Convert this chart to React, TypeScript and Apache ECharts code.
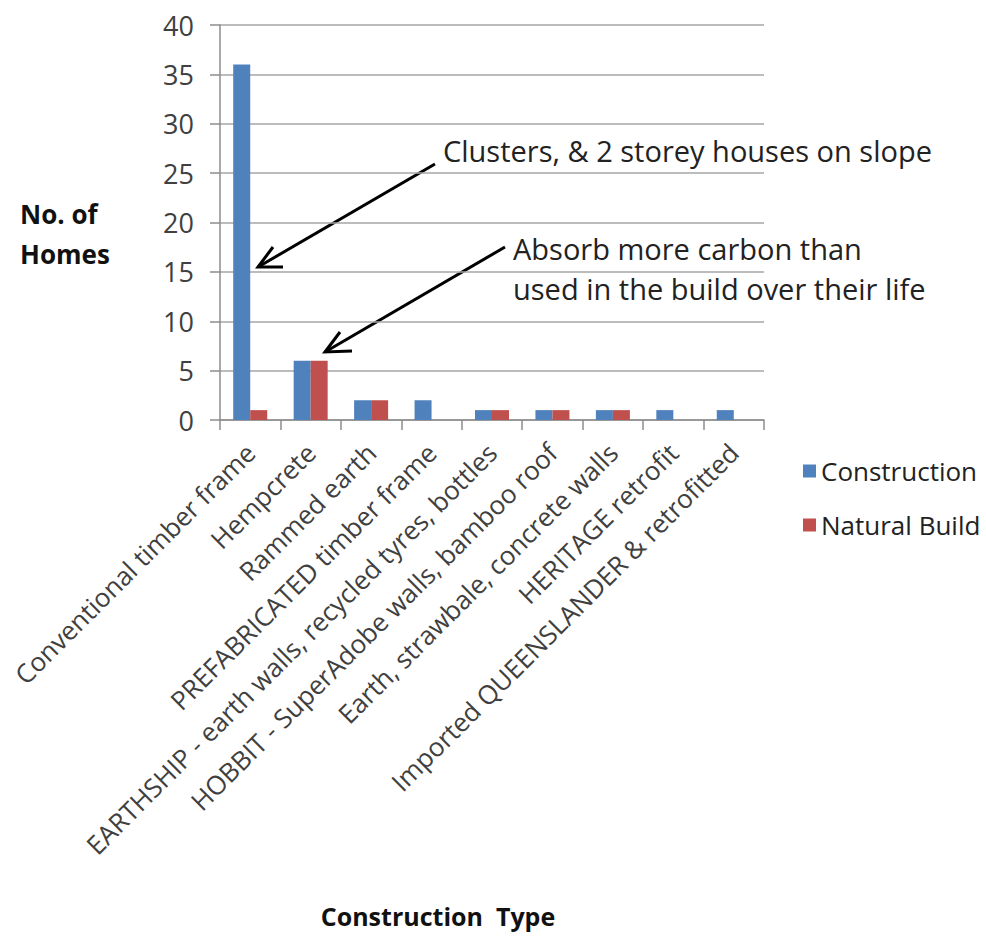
import React, { useEffect, useRef } from "react";
import * as echarts from "echarts";

const categories = [
  "Conventional timber frame",
  "Hempcrete",
  "Rammed earth",
  "PREFABRICATED timber frame",
  "EARTHSHIP - earth walls, recycled tyres, bottles",
  "HOBBIT - SuperAdobe walls, bamboo roof",
  "Earth, strawbale, concrete walls",
  "HERITAGE retrofit",
  "Imported QUEENSLANDER & retrofitted",
];
const construction = [36, 6, 2, 2, 1, 1, 1, 1, 1];
const naturalBuild = [1, 6, 2, null, 1, 1, 1, null, null];
const yTicks = { min: 0, max: 40, interval: 5 };

const FONT = "'Open Sans', 'Noto Sans', sans-serif";
const TXT = "#404040";

export default function App() {
  const ref = useRef<HTMLDivElement>(null);
  useEffect(() => {
    document.body.style.margin = "0";
    const chart = echarts.init(ref.current!, null, { renderer: "svg" });
    const arrow = (x1: number, y1: number, x2: number, y2: number, w1: number[], w2: number[]) => [
      { type: "line", shape: { x1, y1, x2, y2 }, style: { stroke: "#000", lineWidth: 3 } },
      {
        type: "polyline",
        shape: { points: [w1, [x2, y2], w2] },
        style: { stroke: "#000", lineWidth: 3, fill: null },
      },
    ];
    chart.setOption({
      animation: false,
      textStyle: { fontFamily: FONT },
      grid: { left: 220, right: 222, top: 25, bottom: 517, containLabel: false },
      legend: {
        orient: "vertical",
        left: 798,
        top: 453,
        itemWidth: 13,
        itemHeight: 13,
        itemGap: 28,
        icon: "rect",
        textStyle: { fontSize: 26, color: "#222", fontFamily: FONT },
        data: ["Construction", "Natural Build"],
      },
      xAxis: {
        type: "category",
        data: categories,
        axisLine: { lineStyle: { color: "#8c8c8c", width: 1.5 } },
        axisTick: { show: true, length: 10, alignWithLabel: false, lineStyle: { color: "#8c8c8c", width: 1.5 } },
        axisLabel: { rotate: 45, fontSize: 26, color: TXT, margin: 28, interval: 0, fontFamily: FONT },
      },
      yAxis: {
        type: "value",
        min: yTicks.min,
        max: yTicks.max,
        interval: yTicks.interval,
        axisLine: { show: true, lineStyle: { color: "#8c8c8c", width: 1.5 } },
        axisTick: { show: true, length: 10, lineStyle: { color: "#8c8c8c", width: 1.5 } },
        splitLine: { lineStyle: { color: "#a6a6a6", width: 1.5 } },
        axisLabel: { fontSize: 27, color: TXT, margin: 26, fontFamily: FONT },
      },
      series: [
        {
          name: "Construction",
          type: "bar",
          data: construction,
          barWidth: 17,
          barGap: "0%",
          itemStyle: { color: "#4F81BD" },
        },
        {
          name: "Natural Build",
          type: "bar",
          data: naturalBuild,
          barWidth: 17,
          barGap: "0%",
          itemStyle: { color: "#C0504D" },
        },
      ],
      graphic: [
        {
          type: "text",
          left: 20,
          top: 194,
          style: { text: "No. of\nHomes", fontSize: 26, fontWeight: "bold", fill: "#111", lineHeight: 40, fontFamily: FONT },
        },
        {
          type: "text",
          x: 438,
          y: 916,
          style: {
            text: "Construction  Type",
            fontSize: 25,
            fontWeight: "bold",
            fill: "#111",
            align: "center",
            verticalAlign: "middle",
            fontFamily: FONT,
          },
        },
        {
          type: "text",
          x: 443,
          y: 150,
          style: { text: "Clusters, & 2 storey houses on slope", fontSize: 29, fill: "#222", verticalAlign: "middle", fontFamily: FONT },
        },
        {
          type: "text",
          x: 513,
          y: 228,
          style: {
            text: "Absorb more carbon than\nused in the build over their life",
            fontSize: 29,
            lineHeight: 40,
            fill: "#222",
            fontFamily: FONT,
          },
        },
        ...arrow(435, 164, 258, 267, [273, 247], [283, 267]),
        ...arrow(505, 247, 325, 352, [340, 332], [352, 351]),
      ],
    });
    return () => chart.dispose();
  }, []);
  return <div ref={ref} style={{ width: 986, height: 937 }} />;
}
